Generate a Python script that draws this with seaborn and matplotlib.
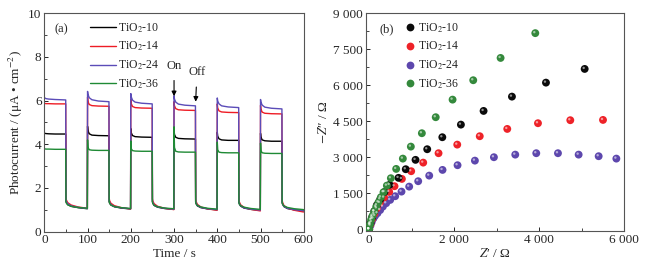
import numpy as np
import pandas as pd
import matplotlib
matplotlib.use("Agg")
import matplotlib.pyplot as plt
import matplotlib.transforms as mtrans
from matplotlib.ticker import MultipleLocator, FuncFormatter
from matplotlib.lines import Line2D
import seaborn as sns

# ---------------- data: panel (a) photocurrent transients ----------------
series_names = ["TiO$_2$-10", "TiO$_2$-14", "TiO$_2$-24", "TiO$_2$-36"]
cycle_starts = [0, 100, 200, 300, 400, 500]
cycle_offsets = [0, 1, 4, 10, 25, 49.5, 50, 51, 54, 62, 78, 99.5]

current_10 = [
    [4.52, 4.50, 4.49, 4.48, 4.47, 4.47, 1.40, 1.33, 1.24, 1.16, 1.10, 1.05],
    [4.82, 4.62, 4.48, 4.42, 4.40, 4.39, 1.38, 1.31, 1.22, 1.14, 1.08, 1.04],
    [4.72, 4.53, 4.40, 4.35, 4.33, 4.32, 1.37, 1.30, 1.20, 1.12, 1.06, 1.02],
    [4.65, 4.45, 4.32, 4.27, 4.25, 4.24, 1.36, 1.28, 1.18, 1.10, 1.04, 1.00],
    [4.55, 4.37, 4.25, 4.20, 4.18, 4.18, 1.35, 1.27, 1.17, 1.08, 1.02, 0.98],
    [4.50, 4.32, 4.20, 4.16, 4.14, 4.14, 1.34, 1.26, 1.15, 1.06, 1.00, 0.95],
]
current_14 = [
    [5.88, 5.87, 5.86, 5.86, 5.85, 5.85, 1.55, 1.45, 1.33, 1.22, 1.13, 1.07],
    [6.15, 5.95, 5.82, 5.77, 5.75, 5.74, 1.52, 1.42, 1.30, 1.19, 1.10, 1.04],
    [6.05, 5.86, 5.73, 5.68, 5.66, 5.65, 1.50, 1.40, 1.28, 1.16, 1.07, 1.01],
    [5.95, 5.76, 5.63, 5.58, 5.56, 5.55, 1.48, 1.38, 1.25, 1.13, 1.04, 0.98],
    [5.85, 5.66, 5.53, 5.48, 5.46, 5.45, 1.46, 1.36, 1.23, 1.11, 1.02, 0.95],
    [5.78, 5.60, 5.47, 5.42, 5.40, 5.39, 1.45, 1.34, 1.20, 1.08, 0.98, 0.90],
]
current_24 = [
    [6.15, 6.12, 6.09, 6.07, 6.05, 6.03, 1.45, 1.38, 1.28, 1.18, 1.11, 1.06],
    [6.42, 6.28, 6.13, 6.04, 5.98, 5.95, 1.42, 1.34, 1.24, 1.15, 1.09, 1.05],
    [6.32, 6.17, 6.02, 5.93, 5.88, 5.85, 1.42, 1.33, 1.22, 1.13, 1.07, 1.03],
    [6.22, 6.07, 5.93, 5.84, 5.79, 5.76, 1.40, 1.31, 1.20, 1.11, 1.05, 1.01],
    [6.12, 5.98, 5.85, 5.76, 5.71, 5.68, 1.38, 1.29, 1.18, 1.09, 1.03, 0.99],
    [6.05, 5.92, 5.79, 5.70, 5.65, 5.62, 1.36, 1.27, 1.16, 1.07, 1.01, 0.96],
]
current_36 = [
    [3.80, 3.79, 3.78, 3.78, 3.77, 3.77, 1.38, 1.31, 1.23, 1.16, 1.11, 1.07],
    [4.20, 3.85, 3.75, 3.73, 3.72, 3.72, 1.37, 1.30, 1.22, 1.15, 1.10, 1.06],
    [4.15, 3.80, 3.71, 3.69, 3.68, 3.68, 1.36, 1.29, 1.21, 1.14, 1.08, 1.05],
    [4.80, 3.85, 3.68, 3.65, 3.64, 3.64, 1.35, 1.28, 1.20, 1.13, 1.07, 1.03],
    [4.10, 3.75, 3.64, 3.62, 3.61, 3.61, 1.34, 1.27, 1.19, 1.12, 1.06, 1.02],
    [4.05, 3.70, 3.61, 3.59, 3.58, 3.58, 1.33, 1.26, 1.18, 1.11, 1.05, 1.01],
]

# ---------------- data: panel (b) Nyquist plots ----------------
z_re_10 = [0, 30, 70, 120, 180, 260, 360, 480, 690, 860, 1090, 1365, 1720, 2157, 2690, 3357, 4157, 5067]
z_im_10 = [0, 250, 500, 750, 1000, 1250, 1550, 1850, 2140, 2500, 2890, 3333, 3833, 4358, 4929, 5525, 6108, 6679]
z_re_14 = [0, 30, 70, 120, 180, 250, 350, 471, 596, 769, 988, 1271, 1631, 2071, 2600, 3247, 3969, 4729, 5498]
z_im_14 = [0, 200, 420, 640, 870, 1100, 1320, 1554, 1792, 2096, 2417, 2775, 3167, 3525, 3875, 4179, 4417, 4542, 4554]
z_re_24 = [0, 30, 60, 100, 140, 195, 259, 322, 400, 494, 612, 760, 941, 1153, 1412, 1725, 2078, 2486,
           2933, 3435, 3929, 4439, 4925, 5396, 5812]
z_im_24 = [0, 150, 300, 450, 560, 667, 800, 942, 1083, 1221, 1375, 1567, 1775, 2000, 2233, 2471, 2667, 2858,
           3000, 3108, 3167, 3167, 3108, 3042, 2942]
z_re_36 = [0, 20, 45, 80, 120, 165, 219, 275, 337, 416, 510, 635, 792, 980, 1239, 1565, 1961, 2447, 3090, 3906]
z_im_36 = [0, 200, 390, 560, 740, 930, 1125, 1333, 1542, 1817, 2125, 2513, 2942, 3442, 4000, 4667, 5400, 6208,
           7137, 8170]

line_colors = ["#000000", "#ee1c25", "#5b4cb8", "#1f8a35"]
dot_colors = ["#0a0a0a", "#ee2228", "#5d47ad", "#34893c"]

# ---------------- style ----------------
sns.set_theme(style="ticks")
plt.rcParams["font.family"] = ["Liberation Serif", "DejaVu Serif"]
plt.rcParams["mathtext.fontset"] = "stix"
plt.rcParams["xtick.direction"] = "in"
plt.rcParams["ytick.direction"] = "in"
plt.rcParams["axes.edgecolor"] = "#555555"
plt.rcParams["axes.linewidth"] = 0.8

fig = plt.figure(figsize=(6.47, 2.70), dpi=100)
ax1 = fig.add_axes([0.0685, 0.142, 0.401, 0.809])
ax2 = fig.add_axes([0.565, 0.1444, 0.400, 0.8066])

# ---------------- panel (a) ----------------
rows = []
for name, cur in zip(series_names, [current_10, current_14, current_24, current_36]):
    for c0, vals in zip(cycle_starts, cur):
        for off, v in zip(cycle_offsets, vals):
            rows.append((name, c0 + off, v))
df_a = pd.DataFrame(rows, columns=["series", "time", "current"])
palette_a = dict(zip(series_names, line_colors))
for name in series_names:
    sns.lineplot(data=df_a[df_a.series == name], x="time", y="current", color=palette_a[name],
                 estimator=None, sort=False, lw=1.0, ax=ax1, legend=False)

ax1.set_xlim(0, 600)
ax1.set_ylim(0, 10)
ax1.xaxis.set_major_locator(MultipleLocator(100))
ax1.xaxis.set_minor_locator(MultipleLocator(50))
ax1.yaxis.set_major_locator(MultipleLocator(2))
ax1.yaxis.set_minor_locator(MultipleLocator(1))
ax1.set_xlabel("Time / s", fontsize=9.5, labelpad=1)
ax1.set_ylabel("Photocurrent / (μA • cm$^{-2}$)", fontsize=9.5, labelpad=2)
ax1.tick_params(labelsize=9.5, length=3, width=0.7, pad=2)
ax1.tick_params(which="minor", length=2, width=0.6)
ax1.text(0.066, 0.925, "(a)", transform=ax1.transAxes, fontsize=9, ha="center", va="center")
handles_a = [Line2D([], [], color=c, lw=1.0) for c in line_colors]
ax1.legend(handles_a, series_names, loc="upper left", bbox_to_anchor=(0.168, 0.975), frameon=False,
           fontsize=8.5, handlelength=2.15, handletextpad=0.2, labelspacing=0.45, borderpad=0.2,
           borderaxespad=0)
ax1.annotate("On", xy=(300, 6.2), xytext=(300, 7.6), ha="center", va="center", fontsize=9,
             arrowprops=dict(arrowstyle="-|>", color="black", lw=0.8, mutation_scale=7, shrinkA=4, shrinkB=0))
ax1.annotate("Off", xy=(350, 5.95), xytext=(353, 7.3), ha="center", va="center", fontsize=9,
             arrowprops=dict(arrowstyle="-|>", color="black", lw=0.8, mutation_scale=7, shrinkA=4, shrinkB=0))

# ---------------- panel (b) ----------------
rows_b = []
for name, xr, yi in zip(series_names, [z_re_10, z_re_14, z_re_24, z_re_36], [z_im_10, z_im_14, z_im_24, z_im_36]):
    for a, b in zip(xr, yi):
        rows_b.append((name, a, b))
df_b = pd.DataFrame(rows_b, columns=["series", "zre", "zim"])
palette_b = dict(zip(series_names, dot_colors))
hl_offset = mtrans.offset_copy(ax2.transData, fig=fig, x=-1.0, y=1.0, units="dots")
for name in ["TiO$_2$-24", "TiO$_2$-14", "TiO$_2$-10", "TiO$_2$-36"]:
    sub = df_b[df_b.series == name]
    sns.scatterplot(data=sub, x="zre", y="zim", color=palette_b[name], s=32, edgecolor="none",
                    ax=ax2, legend=False, zorder=3)
    sns.scatterplot(data=sub, x="zre", y="zim", color="white", alpha=0.55, s=3, edgecolor="none",
                    ax=ax2, legend=False, zorder=4, transform=hl_offset)

ax2.set_xlim(-85, 6000)
ax2.set_ylim(-75, 9000)
ax2.xaxis.set_major_locator(MultipleLocator(2000))
ax2.xaxis.set_minor_locator(MultipleLocator(1000))
ax2.yaxis.set_major_locator(MultipleLocator(1500))
ax2.yaxis.set_minor_locator(MultipleLocator(750))
fmt = FuncFormatter(lambda v, p: f"{v:,.0f}".replace(",", " "))
ax2.xaxis.set_major_formatter(fmt)
ax2.yaxis.set_major_formatter(fmt)
ax2.set_xlabel("$Z$\u2032 / Ω", fontsize=9.5, labelpad=1)
ax2.set_ylabel("$-Z$\u2033 / Ω", fontsize=9.5, labelpad=2)
ax2.tick_params(labelsize=9.5, length=3, width=0.7, pad=2)
ax2.tick_params(which="minor", length=2, width=0.6)
ax2.text(0.083, 0.925, "(b)", transform=ax2.transAxes, fontsize=9, ha="center", va="center")
handles_b = [Line2D([], [], ls="none", marker="o", markersize=5.6, markerfacecolor=c, markeredgecolor="none")
             for c in dot_colors]
ax2.legend(handles_b, series_names, loc="upper left", bbox_to_anchor=(0.14, 0.975), frameon=False,
           fontsize=8.5, handlelength=1.0, handletextpad=0.2, labelspacing=0.45, borderpad=0.2,
           borderaxespad=0)

fig.savefig("out.png", dpi=100)
